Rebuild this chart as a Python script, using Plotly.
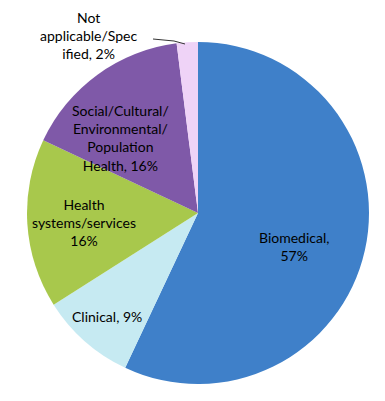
import plotly.graph_objects as go

categories = ["Biomedical", "Clinical", "Health systems/services",
              "Social/Cultural/Environmental/Population Health",
              "Not applicable/Specified"]
values = [57, 9, 16, 16, 2]
label_texts = ["Biomedical,<br>57%", "Clinical, 9%", "Health<br>systems/services<br>16%",
               "Social/Cultural/<br>Environmental/<br>Population<br>Health, 16%",
               "Not<br>applicable/Spec<br>ified, 2%"]
colors = ["#3F80C9", "#C6EAF2", "#A8C84C", "#7F59A8", "#EFD3F7"]

OFF = 8  # page body margin
W, H = 385 - OFF, 401 - OFF
cx, cy, r = 198 - OFF, 213 - OFF, 171

# label centre positions in page pixels
label_pos = [(294, 246), (107, 316), (84, 223), (120, 138), (89, 36)]

def px(x):
    return x / W

def py(y):
    return 1 - y / H

fig = go.Figure(go.Pie(
    labels=categories, values=values, sort=False, direction="clockwise",
    rotation=0, textinfo="none", marker=dict(colors=colors, line=dict(width=0)),
    domain=dict(x=[px(cx - r), px(cx + r)], y=[py(cy + r), py(cy - r)]),
    showlegend=False,
))

for t, (x, y) in zip(label_texts, label_pos):
    fig.add_annotation(x=px(x - OFF), y=py(y - OFF), xref="paper", yref="paper", text=t,
                       showarrow=False, xanchor="center", yanchor="middle", borderpad=0,
                       font=dict(family="Lato", size=14, color="#000000"), align="center")

# leader line for the small slice
pts = [(153, 39), (174, 41), (185, 44)]
path = "M " + " L ".join(f"{px(x - OFF)} {py(y - OFF)}" for x, y in pts)
fig.add_shape(type="path", xref="paper", yref="paper", path=path,
              line=dict(color="#333333", width=1))

fig.update_layout(width=W, height=H, margin=dict(l=0, r=0, t=0, b=0),
                  paper_bgcolor="white", plot_bgcolor="white")
fig.write_html("out.html")
